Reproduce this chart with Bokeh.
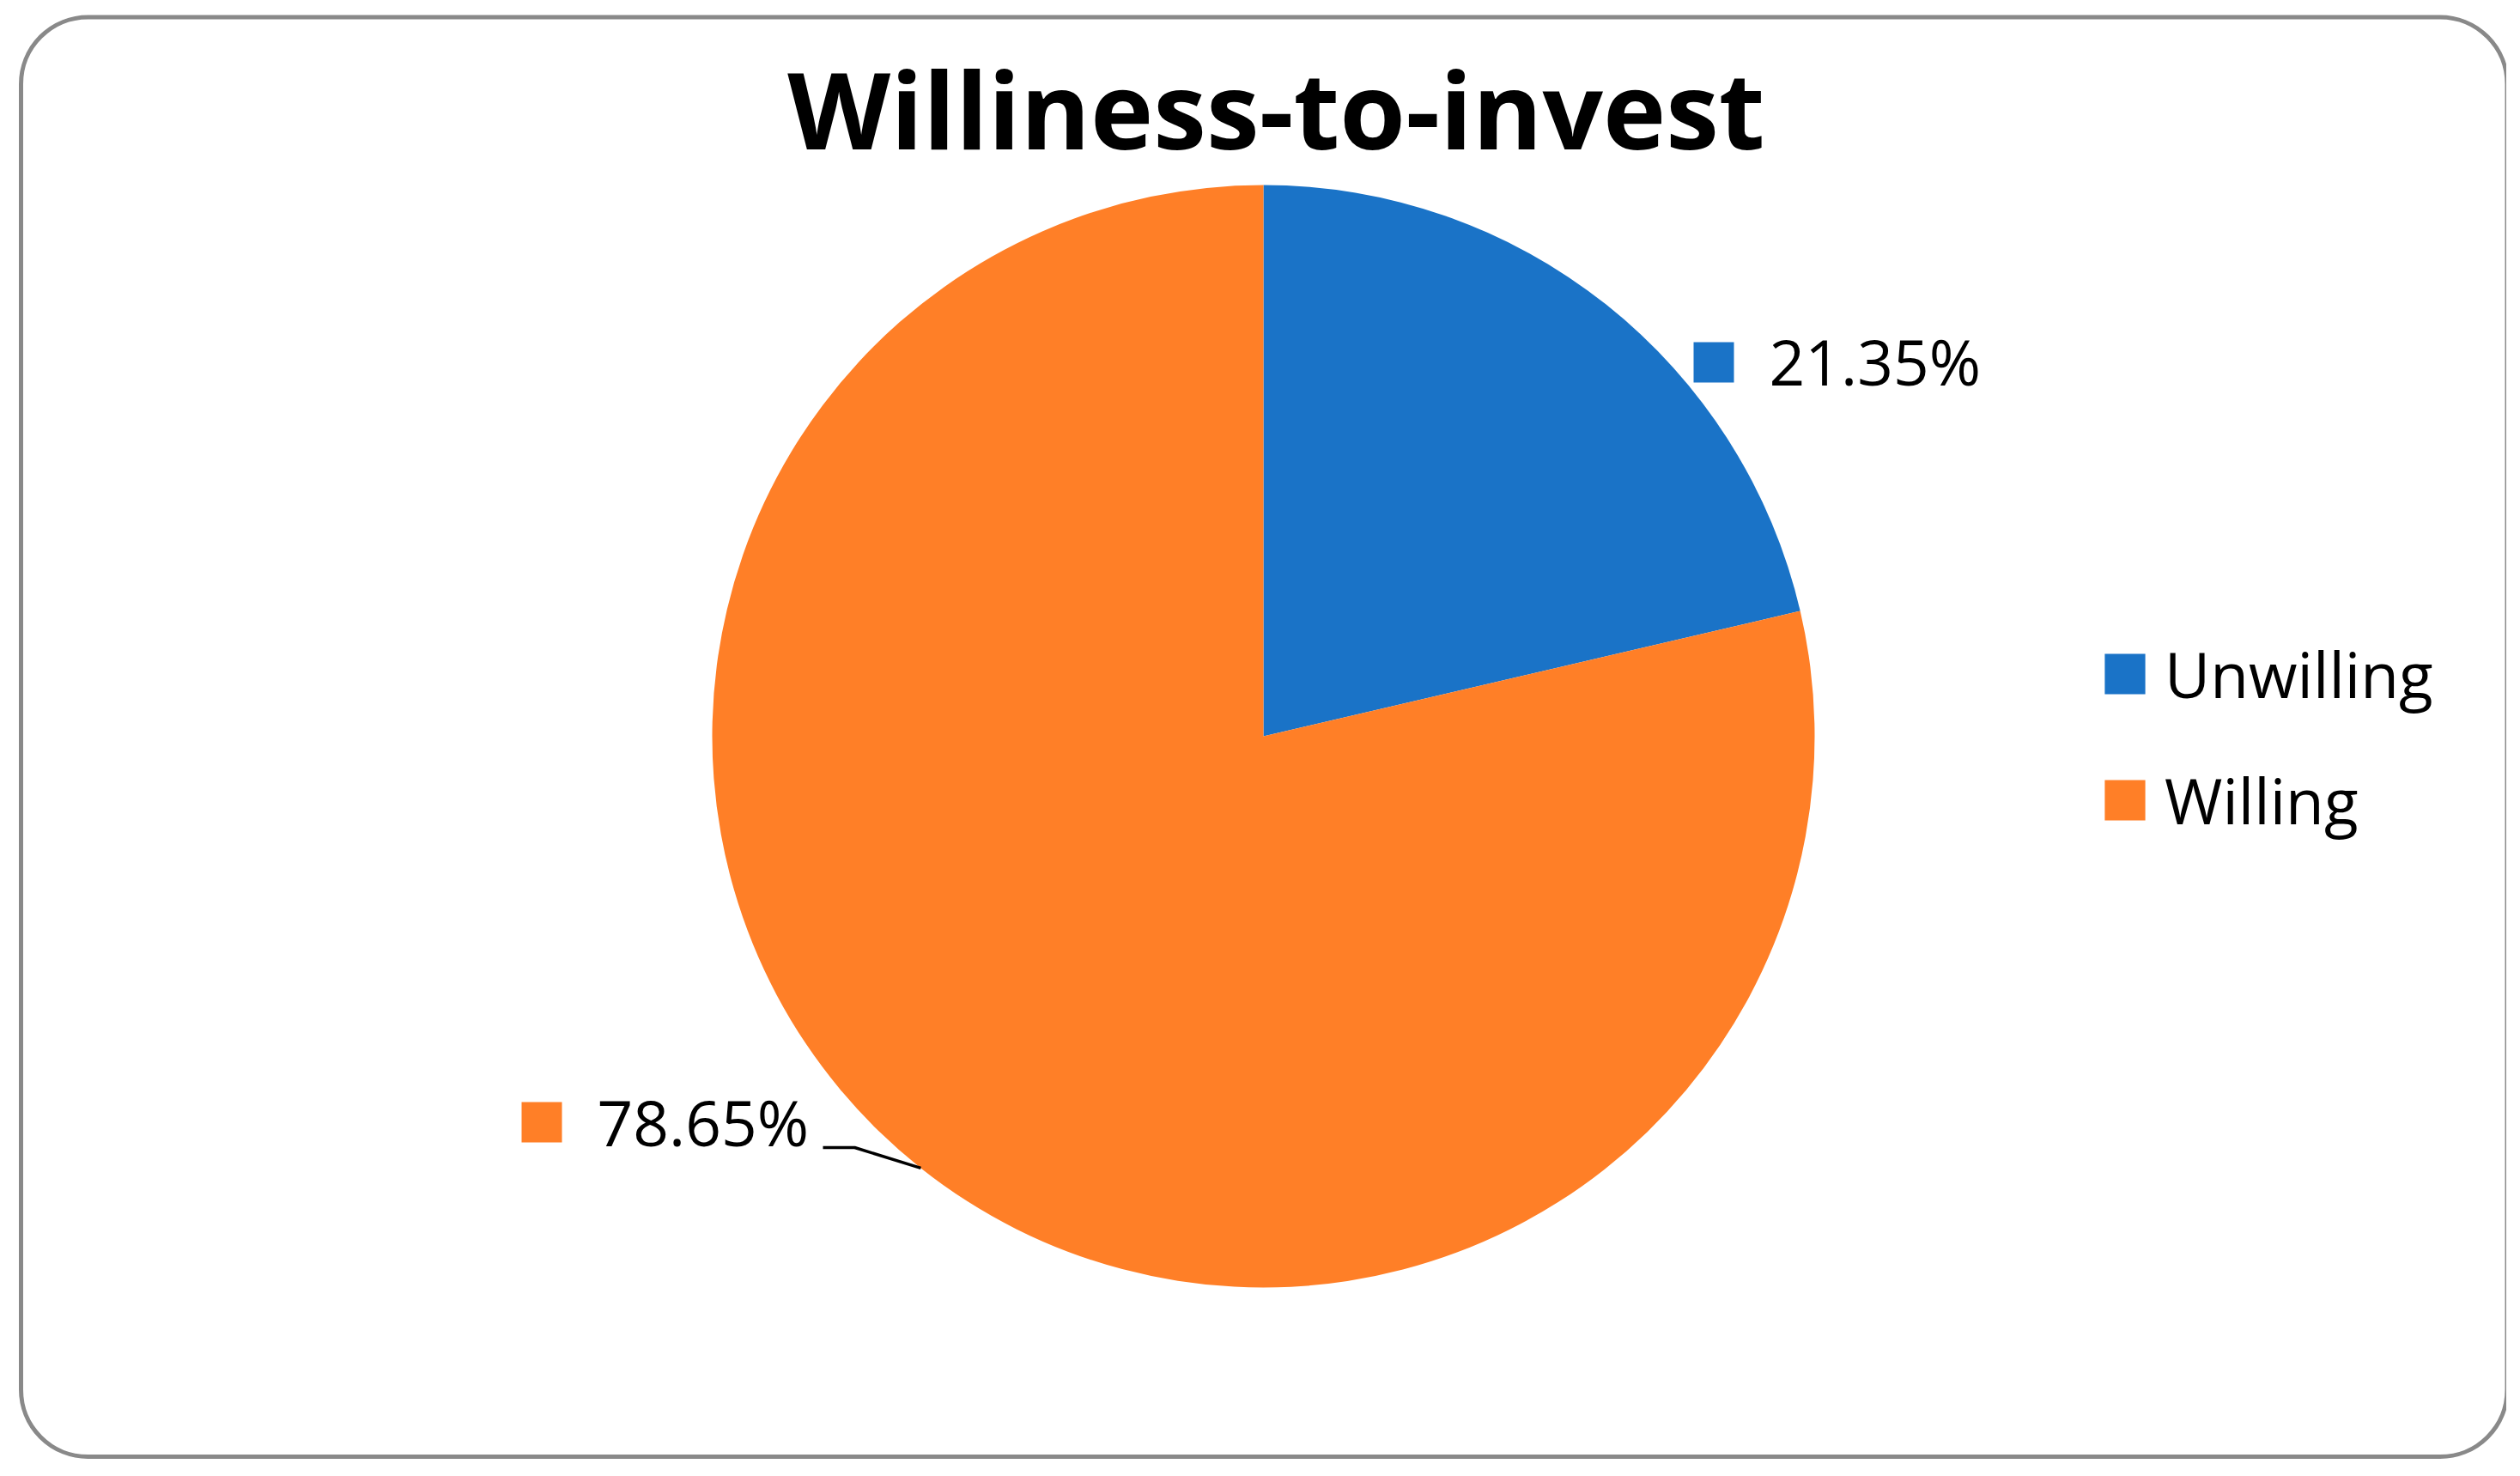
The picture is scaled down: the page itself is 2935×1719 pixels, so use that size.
import math
from bokeh.plotting import figure
from bokeh.models import Range1d, BoxAnnotation, Label, Legend, LegendItem, ColumnDataSource
from bokeh.embed import file_html
from bokeh.resources import INLINE
from bokeh.core.properties import value

# ---- data ----
title_text = "Williness-to-invest"
categories = ["Unwilling", "Willing"]
shares = [21.35, 78.65]
colors = ["#1A73C7", "#FF7F27"]

# ---- layout ----
W, H = 2919, 1703
FONT = "Open Sans"
LBL = 73          # label font size in px
BASE_FIX = 31     # rendered-baseline correction for LBL-size text
p = figure(width=W, height=H, x_range=Range1d(0, W), y_range=Range1d(-H, 0),
           output_backend="svg", toolbar_location=None, min_border=0)
p.axis.visible = False
p.grid.visible = False
p.outline_line_color = None
p.background_fill_color = "white"
p.border_fill_color = "white"

# rounded chart border
p.add_layout(BoxAnnotation(left=24, right=2919.5, top=-19.5, bottom=-1696,
                           fill_alpha=0, line_color="#898989", line_alpha=1.0,
                           line_width=5, border_radius=78))

cx, cy, r = 1471, -857, 642
total = sum(shares)
cum = 0.0
starts, ends, mids = [], [], []
for s in shares:
    a0 = math.pi / 2 - 2 * math.pi * cum / total
    cum += s
    a1 = math.pi / 2 - 2 * math.pi * cum / total
    starts.append(a0)
    ends.append(a1)
    mids.append((a0 + a1) / 2)

renderers = []
for i, cat in enumerate(categories):
    src = ColumnDataSource(dict(x=[cx], y=[cy], start=[starts[i]], end=[ends[i]], cat=[cat]))
    rr = p.wedge(x="x", y="y", radius=r, start_angle="start", end_angle="end",
                 direction="clock", fill_color=colors[i], line_color=None, source=src)
    renderers.append(rr)

# data labels
labels = [f"{s:.2f}%" for s in shares]
label_sq = [(1995.5, -421.5), (630.5, -1306.5)]
label_txt = [(2060, -451 + BASE_FIX), (695, -1337 + BASE_FIX)]
p.scatter(x=[q[0] for q in label_sq], y=[q[1] for q in label_sq], marker="square",
          size=47, fill_color=colors, line_color=None)
p.text(x=[q[0] for q in label_txt], y=[q[1] for q in label_txt], text=labels,
       text_font=value(FONT), text_font_size=f"{LBL}px", text_color="black",
       text_align="left", text_baseline="alphabetic")

# leader line for Willing slice
ex = cx + r * math.cos(mids[1])
ey = cy + r * math.sin(mids[1])
p.line(x=[958, 995, ex], y=[-1336, -1336, ey], line_color="black", line_width=3.5)

# title
p.add_layout(Label(x=1486, y=-178 + 53, text=title_text, text_align="center",
                   text_baseline="alphabetic", text_font=FONT, text_font_size="124px",
                   text_font_style="bold", text_color="black"))

# legend
legend = Legend(items=[LegendItem(label=c, renderers=[rr]) for c, rr in zip(categories, renderers)],
                location=(2445, 722), orientation="vertical",
                glyph_width=59, glyph_height=59, label_standoff=17, spacing=48,
                padding=0, margin=0, border_line_color=None, background_fill_alpha=0,
                label_text_font=FONT, label_text_font_size=f"{LBL}px", label_text_color="black")
p.add_layout(legend)

open("out.html", "w").write(file_html(p, INLINE))
